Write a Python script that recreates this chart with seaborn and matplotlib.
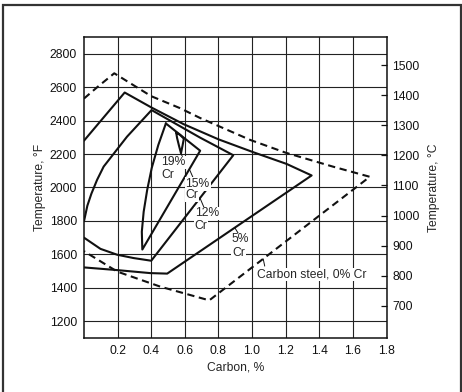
import matplotlib
matplotlib.use("Agg")
import matplotlib.pyplot as plt
import seaborn as sns
from matplotlib.patches import Rectangle

# carbon % vs temperature (F)
steel_c = [0.0, 0.08, 0.18, 0.40, 0.57, 0.69, 0.99, 1.20, 1.48, 1.70, 0.745, 0.454, 0.198, 0.0]
steel_t = [2532, 2601, 2683, 2546, 2475, 2416, 2284, 2208, 2125, 2064, 1325, 1407, 1497, 1619]

cr5_c = [0.0, 0.242, 0.40, 0.592, 0.80, 1.007, 1.205, 1.354, 0.495, 0.394, 0.197, 0.0]
cr5_t = [2280, 2568, 2479, 2379, 2288, 2211, 2141, 2072, 1485, 1488, 1506, 1522]

cr12_c = [0.0, 0.02, 0.044, 0.078, 0.117, 0.256, 0.402, 0.691, 0.888, 0.40, 0.295, 0.197, 0.098, 0.0]
cr12_t = [1798, 1891, 1963, 2046, 2125, 2304, 2463, 2298, 2193, 1562, 1578, 1598, 1633, 1700]

cr15_c = [0.487, 0.691, 0.347, 0.344, 0.355, 0.376, 0.403, 0.442, 0.487]
cr15_t = [2383, 2220, 1629, 1736, 1855, 1986, 2117, 2254, 2383]

cr19_c = [0.548, 0.572, 0.594, 0.586, 0.577, 0.565, 0.554, 0.548]
cr19_t = [2330, 2314, 2292, 2250, 2205, 2250, 2295, 2330]

label_text = ["19%", "Cr", "15%", "Cr", "12%", "Cr", "5%", "Cr"]
label_c = [0.533, 0.498, 0.676, 0.643, 0.731, 0.696, 0.931, 0.918]
label_t = [2150, 2074, 2021, 1957, 1845, 1768, 1689, 1610]

leader_c = [(0.577, 0.59), (0.627, 0.655), (0.69, 0.72), (0.898, 0.918), (1.066, 1.075)]
leader_t = [(2205, 2172), (2109, 2045), (1937, 1866), (1758, 1725), (1573, 1530)]

x_ticks = [0.2, 0.4, 0.6, 0.8, 1.0, 1.2, 1.4, 1.6, 1.8]
f_ticks = [1200, 1400, 1600, 1800, 2000, 2200, 2400, 2600, 2800]
c_ticks = [700, 800, 900, 1000, 1100, 1200, 1300, 1400, 1500]

sns.set_style("white")
plt.rcParams["font.family"] = ["Liberation Sans", "DejaVu Sans"]
plt.rcParams["font.size"] = 8.7

fig = plt.figure(figsize=(4.62, 3.92), dpi=100)
ax = fig.add_axes([0.1818, 0.1378, 0.655, 0.7678])

ax.set_xlim(0, 1.8)
ax.set_ylim(1100, 2900)
ax.set_xticks(x_ticks)
ax.set_xticklabels([f"{v:.1f}" for v in x_ticks])
ax.set_yticks(f_ticks)
ax.grid(True, color="#222222", lw=0.8)
ax.set_axisbelow(True)
ax.tick_params(axis="both", length=0, labelsize=8.7, colors="#111111")
ax.tick_params(axis="y", pad=5)
ax.tick_params(axis="x", pad=5)
for s in ax.spines.values():
    s.set_color("#111111")
    s.set_linewidth(1.1)

# curves
line_kw = dict(color="#111111", lw=1.5, estimator=None, sort=False, ax=ax)
sns.lineplot(x=steel_c, y=steel_t, linestyle=(0, (3.5, 2.2)), **line_kw)
sns.lineplot(x=cr5_c, y=cr5_t, **line_kw)
sns.lineplot(x=cr12_c, y=cr12_t, **line_kw)
sns.lineplot(x=cr15_c, y=cr15_t, **line_kw)
sns.lineplot(x=cr19_c, y=cr19_t, **line_kw)

for lc, lt in zip(leader_c, leader_t):
    ax.plot(lc, lt, color="#111111", lw=0.7)

box = dict(facecolor="white", edgecolor="none", pad=0.6)
for txt, c, t in zip(label_text, label_c, label_t):
    ax.text(c, t, txt, ha="center", va="center", fontsize=8.7, bbox=box, zorder=3)
ax.text(1.027, 1480, "Carbon steel, 0% Cr", ha="left", va="center", fontsize=8.7,
        bbox=box, zorder=3)

ax.set_xlabel("Carbon, %", fontsize=8.7, labelpad=3)
ax.set_ylabel("Temperature, °F", fontsize=8.7, labelpad=3)

# Celsius scale on the right
ax2 = ax.twinx()
ax2.set_ylim((1100 - 32) / 1.8, (2900 - 32) / 1.8)
ax2.set_yticks(c_ticks)
ax2.tick_params(axis="y", direction="in", length=4, width=0.9, pad=4, labelsize=8.7,
                colors="#111111")
ax2.grid(False)
for s in ax2.spines.values():
    s.set_visible(False)
ax2.set_ylabel("Temperature, °C", fontsize=8.7, labelpad=6)

# frame round the figure
fig.patches.append(Rectangle((0.006, -0.02), 0.992, 1.007, transform=fig.transFigure,
                             fill=False, edgecolor="#333333", lw=1.6))

fig.savefig("out.png", dpi=100)
